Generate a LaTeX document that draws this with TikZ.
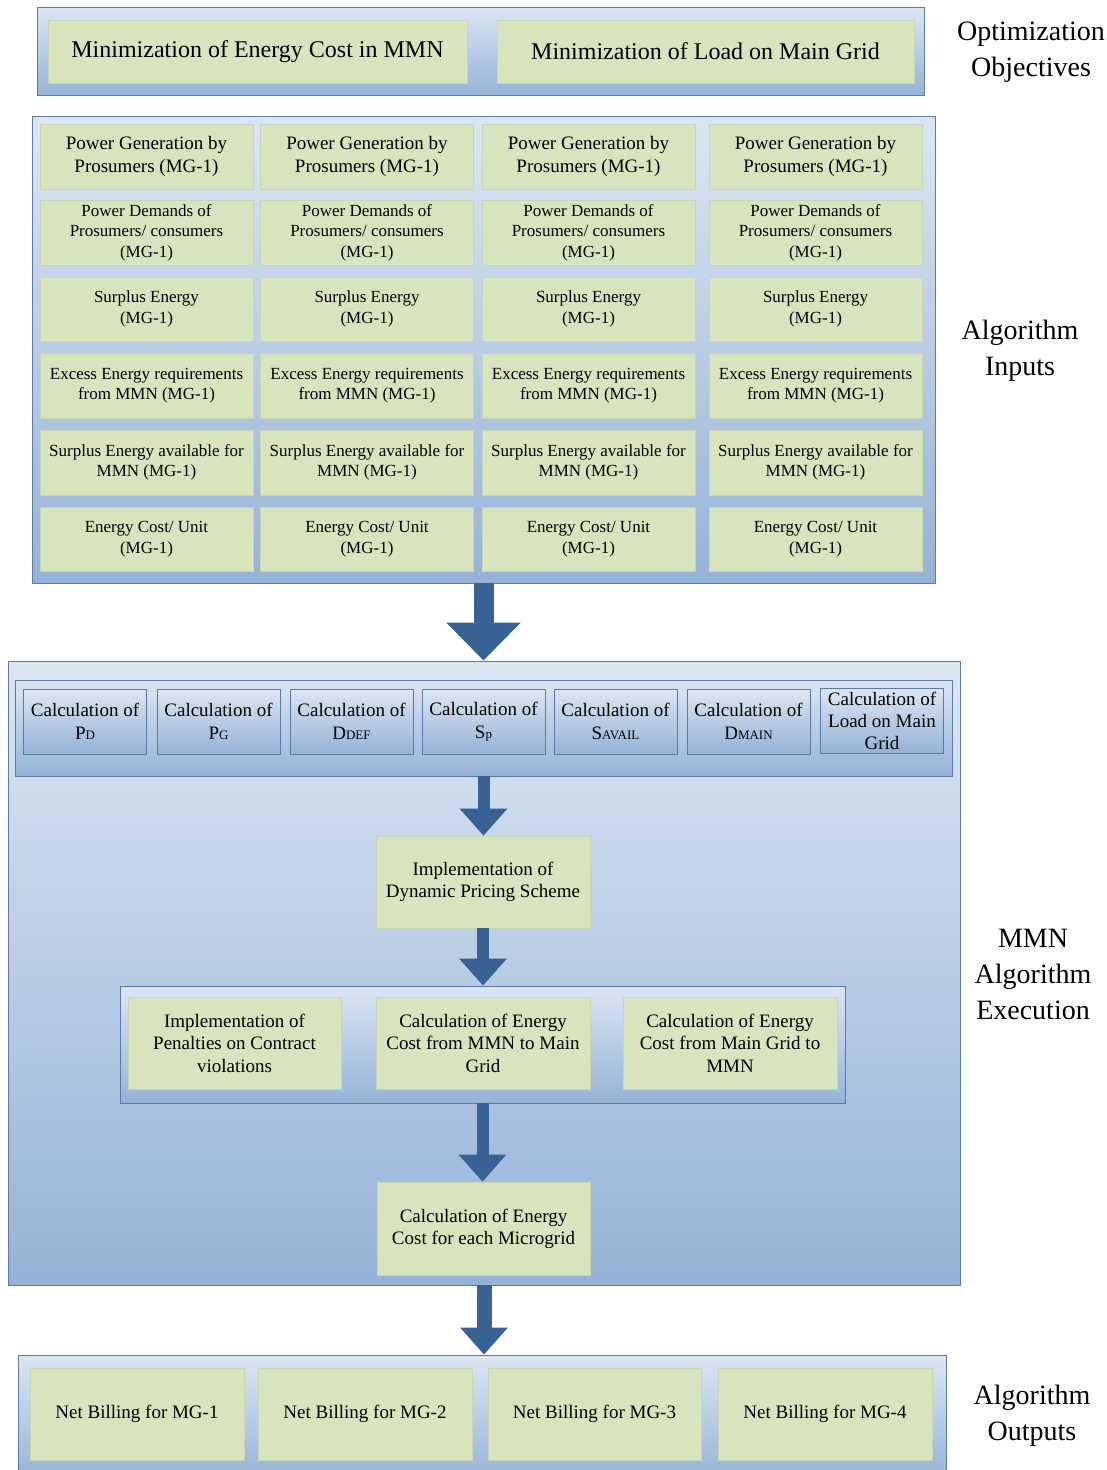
\documentclass[tikz,border=0pt]{standalone}
\usepackage{fontspec}
\setmainfont{Liberation Serif}
\usetikzlibrary{arrows.meta}
\definecolor{gfill}{HTML}{D7E4BD}
\definecolor{gedge}{HTML}{C9D6B4}
\definecolor{ptop}{HTML}{DCE6F2}
\definecolor{pbot}{HTML}{95B3D7}
\definecolor{pedge}{HTML}{5A7BA8}
\definecolor{arr}{HTML}{386194}
\newcommand\smc[1]{{\fontsize{13}{15}\selectfont #1}}
\begin{document}
\begin{tikzpicture}[x=1pt,y=-1pt,
  panel/.style={draw=pedge, line width=0.8pt, top color=ptop, bottom color=pbot, inner sep=0pt},
  gbox/.style={draw=gedge, line width=0.6pt, fill=gfill, inner sep=0pt, align=center, text=black},
  cbox/.style={draw=pedge, line width=0.8pt, top color=ptop, bottom color=pbot, inner sep=0pt,
     align=center, minimum width=123pt, minimum height=65pt, font=\fontsize{19}{23}\selectfont},
  side/.style={align=center, font=\fontsize{28}{36}\selectfont},
  fatarrow/.style={draw=arr, line width=20pt, -{Triangle[width=72pt,length=38pt]}},
  thinarrow/.style={draw=arr, line width=12pt, -{Triangle[width=46pt,length=27pt]}}
]
\clip (0,0) rectangle (1107,1470);
\fill[white] (0,0) rectangle (1107,1470);

% ---------- Optimization objectives ----------
\node[panel, minimum width=887pt, minimum height=88pt] (opt) at (480.5,51) {};
\node[gbox, minimum width=419pt, minimum height=63pt, font=\fontsize{24}{28}\selectfont] (objA) at (257.5,51.5) {Minimization of Energy Cost in MMN};
\node[gbox, minimum width=417pt, minimum height=63pt, font=\fontsize{24}{28}\selectfont] (objB) at (705.5,51.5) {Minimization of Load on Main Grid};
\node[side] (lopt) at (1031,52) {Optimization\\Objectives};

% ---------- Algorithm inputs ----------
\node[panel, minimum width=903pt, minimum height=467pt] (inp) at (483.5,349.5) {};
\foreach \cx [count=\c] in {146.5,367,588.5,815.5}{
  \node[gbox, minimum width=213pt, minimum height=65pt, font=\fontsize{19}{23}\selectfont] (in1\c) at (\cx,156.5) {Power Generation by\\Prosumers (MG-1)};
  \node[gbox, minimum width=213pt, minimum height=65pt, font=\fontsize{17}{20.5}\selectfont] (in2\c) at (\cx,232.5) {Power Demands of\\Prosumers/ consumers\\(MG-1)};
  \node[gbox, minimum width=213pt, minimum height=64pt, font=\fontsize{17}{21}\selectfont] (in3\c) at (\cx,309) {Surplus Energy\\(MG-1)};
  \node[gbox, minimum width=213pt, minimum height=65pt, font=\fontsize{17}{20.5}\selectfont] (in4\c) at (\cx,385.5) {Excess Energy requirements\\from MMN (MG-1)};
  \node[gbox, minimum width=213pt, minimum height=65pt, font=\fontsize{17}{20.5}\selectfont] (in5\c) at (\cx,462.5) {Surplus Energy available for\\MMN (MG-1)};
  \node[gbox, minimum width=213pt, minimum height=64pt, font=\fontsize{17}{21}\selectfont] (in6\c) at (\cx,539) {Energy Cost/ Unit\\(MG-1)};
}
\node[side] (linp) at (1020,351) {Algorithm\\Inputs};

% ---------- MMN algorithm execution ----------
\node[panel, minimum width=952pt, minimum height=624pt] (mmn) at (484,973) {};
\node[panel, minimum width=937pt, minimum height=96pt] (calc) at (483.5,728) {};
\node[cbox] (c1) at (85,721.5) {Calculation of\\P\smc{D}};
\node[cbox] (c2) at (218.5,721.5) {Calculation of\\P\smc{G}};
\node[cbox] (c3) at (351.5,721.5) {Calculation of\\D\smc{DEF}};
\node[cbox] (c4) at (483.5,721.5) {Calculation of\\S\smc{p}};
\node[cbox] (c5) at (615.5,721.5) {Calculation of\\S\smc{AVAIL}};
\node[cbox] (c6) at (748.5,721.5) {Calculation of\\D\smc{MAIN}};
\node[cbox, font=\fontsize{19}{22}\selectfont] (c7) at (882,720.5) {Calculation of\\Load on Main\\Grid};

\node[gbox, minimum width=214pt, minimum height=92pt, font=\fontsize{19}{22}\selectfont] (dyn) at (483,882) {Implementation of\\Dynamic Pricing Scheme};

\node[panel, minimum width=725pt, minimum height=117pt] (pen) at (482.5,1044.5) {};
\node[gbox, minimum width=213pt, minimum height=92pt, font=\fontsize{19}{22.5}\selectfont] (p1) at (234.5,1043) {Implementation of\\Penalties on Contract\\violations};
\node[gbox, minimum width=214pt, minimum height=92pt, font=\fontsize{19}{22.5}\selectfont] (p2) at (483,1043) {Calculation of Energy\\Cost from MMN to Main\\Grid};
\node[gbox, minimum width=214pt, minimum height=92pt, font=\fontsize{19}{22.5}\selectfont] (p3) at (730,1043) {Calculation of Energy\\Cost from Main Grid to\\MMN};

\node[gbox, minimum width=213pt, minimum height=93pt, font=\fontsize{19}{22}\selectfont] (micro) at (483.5,1228.5) {Calculation of Energy\\Cost for each Microgrid};
\node[side] (lmmn) at (1033,974) {MMN\\Algorithm\\Execution};

% ---------- Algorithm outputs ----------
\node[panel, minimum width=928pt, minimum height=125pt] (out) at (482,1417.5) {};
\foreach \cx/\w [count=\c] in {137/214,365/214,594.5/213,825/214}{
  \node[gbox, minimum width=\w pt, minimum height=92pt, font=\fontsize{19}{22}\selectfont] (o\c) at (\cx,1414) {Net Billing for MG-\c};
}
\node[side] (lout) at (1032,1416) {Algorithm\\Outputs};

% ---------- arrows ----------
\draw[fatarrow] (inp.south) -- (inp.south |- mmn.north);
\draw[thinarrow] (calc.south) -- (calc.south |- dyn.north);
\draw[thinarrow] (dyn.south) -- (dyn.south |- pen.north);
\draw[thinarrow] (pen.south) -- (pen.south |- micro.north);
\draw[thinarrow, line width=15pt] (mmn.south) -- (mmn.south |- out.north);
\end{tikzpicture}
\end{document}
